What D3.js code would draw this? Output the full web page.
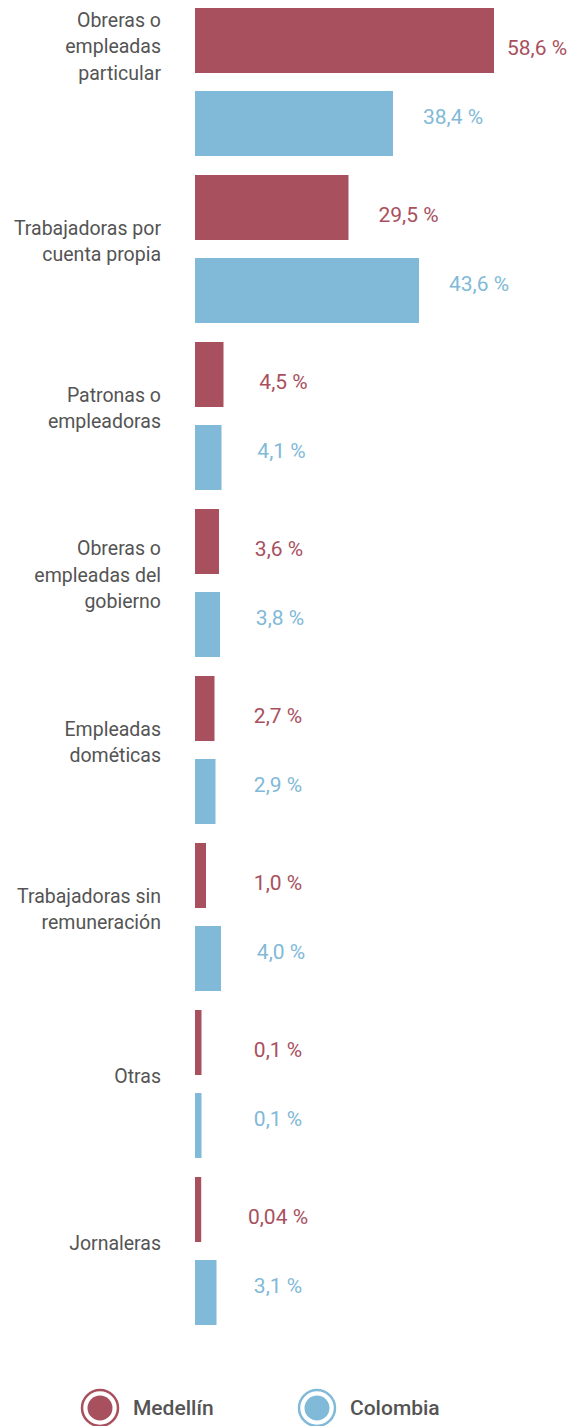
<!DOCTYPE html>
<html>
<head>
<meta charset="utf-8">
<script src="https://cdn.jsdelivr.net/npm/d3@7"></script>
<style>
  html, body { margin: 0; padding: 0; background: #ffffff; }
  svg { display: block; font-family: Roboto, "Noto Sans", sans-serif; }
</style>
</head>
<body>
<svg id="chart" width="577" height="1426"></svg>
<script>
// Ocupación de las mujeres por posición ocupacional (%)
const categories = [
  ["Obreras o", "empleadas", "particular"],
  ["Trabajadoras por", "cuenta propia"],
  ["Patronas o", "empleadoras"],
  ["Obreras o", "empleadas del", "gobierno"],
  ["Empleadas", "dométicas"],
  ["Trabajadoras sin", "remuneración"],
  ["Otras"],
  ["Jornaleras"]
];
const seriesNames = ["Medellín", "Colombia"];
const medellin = [58.6, 29.5, 4.5, 3.6, 2.7, 1.0, 0.1, 0.04];
const colombia = [38.4, 43.6, 4.1, 3.8, 2.9, 4.0, 0.1, 3.1];
const valueLabelsMedellin = ["58,6 %", "29,5 %", "4,5 %", "3,6 %", "2,7 %", "1,0 %", "0,1 %", "0,04 %"];
const valueLabelsColombia = ["38,4 %", "43,6 %", "4,1 %", "3,8 %", "2,9 %", "4,0 %", "0,1 %", "3,1 %"];

const colors = { "Medellín": "#a8505e", "Colombia": "#81b9d8" };
const textColor = "#545454";

const W = 577;
const svg = d3.select("#chart");

const keys = categories.map((c, i) => i);
const y = d3.scaleBand().domain(keys).range([8, 8 + 167 * categories.length]).paddingInner(0);
const yInner = d3.scaleBand().domain(seriesNames).range([0, 148]).paddingInner(0.217).paddingOuter(0);
const x = d3.scaleLinear().domain([0, 60]).range([6, 306]);
const x0 = 195;

const rows = [];
categories.forEach((c, i) => {
  rows.push({ i, s: "Medellín", v: medellin[i], label: valueLabelsMedellin[i] });
  rows.push({ i, s: "Colombia", v: colombia[i], label: valueLabelsColombia[i] });
});

// Bars
svg.append("g").selectAll("rect").data(rows).join("rect")
  .attr("x", x0)
  .attr("y", d => y(d.i) + yInner(d.s))
  .attr("width", d => x(d.v))
  .attr("height", yInner.bandwidth())
  .attr("fill", d => colors[d.s]);

// Value labels
svg.append("g").selectAll("text").data(rows).join("text")
  .attr("x", d => Math.min(Math.max(x0 + x(d.v) + 60, 278), 537))
  .attr("y", d => y(d.i) + yInner(d.s) + yInner.bandwidth() / 2 + (d.s === "Medellín" ? 7 : -7))
  .attr("dy", "0.35em")
  .attr("text-anchor", "middle")
  .attr("font-size", 21)
  .attr("font-weight", 400)
  .attr("fill", d => colors[d.s])
  .text(d => d.label);

// Category labels
const lineH = 26.5;
const catG = svg.append("g");
categories.forEach((lines, i) => {
  // first label hangs from the top of its bar, the rest sit around the group middle
  const mid = i === 0 ? y(i) + 12 + (lines.length - 1) * lineH / 2 : y(i) + 66;
  const t = catG.append("text")
    .attr("text-anchor", "end")
    .attr("font-size", 19.5)
    .attr("fill", textColor);
  lines.forEach((ln, k) => {
    t.append("tspan")
      .attr("x", 161)
      .attr("y", mid + (k - (lines.length - 1) / 2) * lineH)
      .attr("dy", "0.35em")
      .text(ln);
  });
});

// Legend
const legend = svg.append("g").attr("transform", "translate(0,1408)");
const legendX = { "Medellín": 100, "Colombia": 317 };
seriesNames.forEach(s => {
  const g = legend.append("g").attr("transform", `translate(${legendX[s]},0)`);
  g.append("circle").attr("r", 18).attr("fill", "none").attr("stroke", colors[s]).attr("stroke-width", 2.5);
  g.append("circle").attr("r", 12.5).attr("fill", colors[s]);
  g.append("text").attr("x", 33).attr("dy", "0.35em")
    .attr("font-size", 21).attr("font-weight", 500).attr("fill", textColor).text(s);
});
</script>
</body>
</html>
